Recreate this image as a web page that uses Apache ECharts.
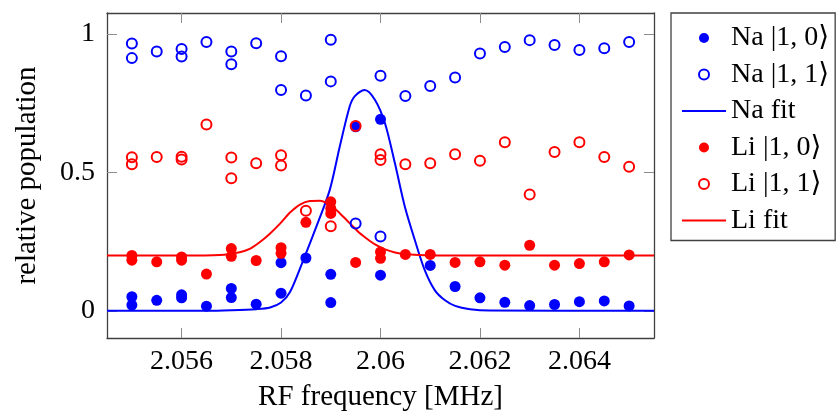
<!DOCTYPE html>
<html>
<head>
<meta charset="utf-8">
<script src="https://cdn.jsdelivr.net/npm/echarts@6/dist/echarts.min.js"></script>
<style>
  html, body { margin: 0; padding: 0; background: #fff; }
  #chart { width: 838px; height: 412px; }
</style>
</head>
<body>
<div id="chart"></div>
<script>
// RF spectroscopy scan: populations of the |1,0> and |1,1> states vs RF frequency (MHz)
const naState10 = [
  [2.055, 0.051], [2.055, 0.021], [2.0555, 0.038], [2.056, 0.058], [2.056, 0.047],
  [2.0565, 0.017], [2.057, 0.081], [2.057, 0.048], [2.0575, 0.024], [2.058, 0.174],
  [2.058, 0.064], [2.0585, 0.191], [2.059, 0.132], [2.059, 0.030], [2.0595, 0.665],
  [2.06, 0.692], [2.06, 0.129], [2.061, 0.164], [2.0615, 0.088], [2.062, 0.047],
  [2.0625, 0.031], [2.063, 0.019], [2.0635, 0.023], [2.064, 0.033], [2.0645, 0.036],
  [2.065, 0.018]
];
const naState11 = [
  [2.055, 0.966], [2.055, 0.913], [2.0555, 0.937], [2.056, 0.946], [2.056, 0.919],
  [2.0565, 0.971], [2.057, 0.937], [2.057, 0.891], [2.0575, 0.967], [2.058, 0.920],
  [2.058, 0.798], [2.0585, 0.778], [2.059, 0.979], [2.059, 0.829], [2.0595, 0.316],
  [2.06, 0.849], [2.06, 0.269], [2.0605, 0.776], [2.061, 0.812], [2.0615, 0.843],
  [2.062, 0.930], [2.0625, 0.953], [2.063, 0.978], [2.0635, 0.960], [2.064, 0.942],
  [2.0645, 0.949], [2.065, 0.971]
];
const naFit = [
  [2.0545, 0.000], [2.0565, 0.000], [2.0570, 0.002], [2.0575, 0.006], [2.05778, 0.012],
  [2.0580, 0.030], [2.05818, 0.068], [2.05844, 0.180], [2.05871, 0.304], [2.05898, 0.437],
  [2.05918, 0.593], [2.05938, 0.738], [2.05948, 0.775], [2.05968, 0.798], [2.05989, 0.762],
  [2.06009, 0.678], [2.06029, 0.533], [2.06049, 0.376], [2.06069, 0.256], [2.06089, 0.147],
  [2.06109, 0.075], [2.06129, 0.039], [2.0615, 0.018], [2.0618, 0.006], [2.0622, 0.001],
  [2.0655, 0.000]
];
const liState10 = [
  [2.055, 0.200], [2.055, 0.183], [2.0555, 0.177], [2.056, 0.195], [2.056, 0.183],
  [2.0565, 0.133], [2.057, 0.225], [2.057, 0.197], [2.0575, 0.182], [2.058, 0.228],
  [2.058, 0.208], [2.0585, 0.320], [2.059, 0.394], [2.059, 0.370], [2.059, 0.352],
  [2.0595, 0.175], [2.06, 0.213], [2.06, 0.190], [2.0605, 0.204], [2.061, 0.204],
  [2.0615, 0.175], [2.062, 0.177], [2.0625, 0.165], [2.063, 0.237], [2.0635, 0.165],
  [2.064, 0.171], [2.0645, 0.177], [2.065, 0.202]
];
const liState11 = [
  [2.055, 0.555], [2.055, 0.530], [2.0555, 0.556], [2.056, 0.557], [2.056, 0.547],
  [2.0565, 0.673], [2.057, 0.554], [2.057, 0.479], [2.0575, 0.533], [2.058, 0.562],
  [2.058, 0.525], [2.0585, 0.362], [2.059, 0.306], [2.0595, 0.668], [2.06, 0.566],
  [2.06, 0.545], [2.0605, 0.530], [2.061, 0.533], [2.0615, 0.566], [2.062, 0.542],
  [2.0625, 0.609], [2.063, 0.420], [2.0635, 0.574], [2.064, 0.609], [2.0645, 0.556],
  [2.065, 0.521]
];
const liFit = [
  [2.0545, 0.200], [2.0560, 0.200], [2.05677, 0.202], [2.05717, 0.212], [2.05737, 0.224],
  [2.05757, 0.248], [2.05777, 0.278], [2.05798, 0.315], [2.05818, 0.355], [2.05838, 0.384],
  [2.05858, 0.397], [2.05878, 0.398], [2.05898, 0.383], [2.05918, 0.353], [2.05938, 0.317],
  [2.05958, 0.281], [2.05968, 0.267], [2.05989, 0.240], [2.06009, 0.222], [2.06029, 0.211],
  [2.06049, 0.205], [2.06089, 0.201], [2.0615, 0.200], [2.0655, 0.200]
];

const xTicks = [2.056, 2.058, 2.06, 2.062, 2.064];
const xTickLabels = ['2.056', '2.058', '2.06', '2.062', '2.064'];
const yTicks = [0, 0.5, 1];
const yTickLabels = ['0', '0.5', '1'];

const seriesNames = ['Na |1, 0⟩', 'Na |1, 1⟩', 'Na fit', 'Li |1, 0⟩', 'Li |1, 1⟩', 'Li fit'];

const BLUE = '#0000ff';
const RED = '#ff0000';
const FONT = "'Liberation Serif', 'DejaVu Serif', serif";
const FRAME = '#404040';
const TICK = '#8c8c8c';

const xRange = { min: 2.0545, max: 2.0655 };
const yRange = { min: -0.098, max: 1.076 };

function labelFor(ticks, labels) {
  return v => {
    const i = ticks.findIndex(t => Math.abs(t - v) < 1e-9);
    return i >= 0 ? labels[i] : '';
  };
}

const chart = echarts.init(document.getElementById('chart'), null, { renderer: 'canvas' });

const baseX = {
  type: 'value', min: xRange.min, max: xRange.max,
  splitLine: { show: false },
  axisLine: { show: true, onZero: false, lineStyle: { color: FRAME, width: 1.3 } },
  axisTick: { show: true, inside: true, length: 10, customValues: xTicks, lineStyle: { color: TICK, width: 1 } }
};
const baseY = {
  type: 'value', min: yRange.min, max: yRange.max,
  splitLine: { show: false },
  axisLine: { show: true, onZero: false, lineStyle: { color: FRAME, width: 1.3 } },
  axisTick: { show: true, inside: true, length: 10, customValues: yTicks, lineStyle: { color: TICK, width: 1 } }
};

function scatter(name, data, color, filled) {
  return {
    name, type: 'scatter', data,
    symbol: 'circle',
    symbolSize: filled ? 11 : 10,
    itemStyle: filled
      ? { color: color, opacity: 1 }
      : { color: 'rgba(255,255,255,0)', borderColor: color, borderWidth: 2, opacity: 1 },
    emphasis: { disabled: true },
    z: 2
  };
}
function fitLine(name, data, color) {
  return {
    name, type: 'line', data,
    smooth: 0.3, symbol: 'none', showSymbol: false,
    lineStyle: { color: color, width: 2 },
    // symbols are never drawn; keep the legend entry a plain line
    itemStyle: { color: color, opacity: 0 },
    emphasis: { disabled: true },
    z: 2
  };
}

chart.setOption({
  animation: false,
  grid: { left: 107, right: 184, top: 13, bottom: 74, outerBoundsMode: 'none', containLabel: false },
  xAxis: [
    Object.assign({}, baseX, {
      position: 'bottom',
      name: 'RF frequency [MHz]', nameLocation: 'middle', nameGap: 45,
      nameTextStyle: { fontFamily: FONT, fontSize: 29, color: '#000' },
      axisLabel: { show: true, customValues: xTicks, formatter: labelFor(xTicks, xTickLabels),
        margin: 10, fontFamily: FONT, fontSize: 28, color: '#000' }
    }),
    Object.assign({}, baseX, { position: 'top', axisLabel: { show: false } })
  ],
  yAxis: [
    Object.assign({}, baseY, {
      position: 'left',
      name: 'relative population', nameLocation: 'middle', nameGap: 65, nameRotate: 90,
      nameTextStyle: { fontFamily: FONT, fontSize: 29, color: '#000' },
      axisLabel: { show: true, customValues: yTicks, formatter: labelFor(yTicks, yTickLabels),
        margin: 12, fontFamily: FONT, fontSize: 28, color: '#000' }
    }),
    Object.assign({}, baseY, { position: 'right', axisLabel: { show: false } })
  ],
  legend: {
    orient: 'vertical', left: 671, top: 13,
    padding: [11, 6, 6, 10],
    borderColor: FRAME, borderWidth: 1.3, borderRadius: 0,
    backgroundColor: '#fff',
    itemWidth: 44, itemHeight: 10, itemGap: 8.5,
    selectedMode: false,
    textStyle: { fontFamily: FONT, fontSize: 28, lineHeight: 28, color: '#000' },
    data: seriesNames
  },
  series: [
    scatter(seriesNames[0], naState10, BLUE, true),
    scatter(seriesNames[1], naState11, BLUE, false),
    fitLine(seriesNames[2], naFit, BLUE),
    scatter(seriesNames[3], liState10, RED, true),
    scatter(seriesNames[4], liState11, RED, false),
    fitLine(seriesNames[5], liFit, RED)
  ]
});
</script>
</body>
</html>
